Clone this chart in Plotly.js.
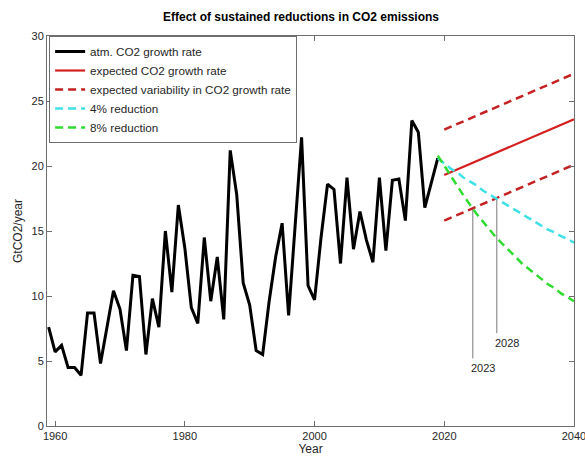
<!DOCTYPE html>
<html>
<head>
<meta charset="utf-8">
<script src="https://cdn.plot.ly/plotly-3.0.1.min.js"></script>
<style>
html, body { margin: 0; padding: 0; background: #fff; }
#chart { width: 585px; height: 457px; }
</style>
</head>
<body>
<div id="chart"></div>
<script>
// Observed atmospheric CO2 growth rate (GtCO2/year)
const obsYears = [];
for (let y = 1959; y <= 2019; y++) obsYears.push(y);
const obsGrowth = [7.6, 5.7, 6.2, 4.5, 4.5, 3.9, 8.7, 8.7, 4.8, 7.6,
  10.4, 9.0, 5.8, 11.6, 11.5, 5.5, 9.8, 7.6, 15.0, 10.3,
  17.0, 13.7, 9.1, 7.9, 14.5, 9.6, 13.0, 8.2, 21.2, 17.8,
  11.0, 9.3, 5.8, 5.5, 9.6, 13.0, 15.6, 8.5, 15.0, 22.2,
  10.8, 9.7, 14.5, 18.6, 18.2, 12.5, 19.1, 13.6, 16.5, 14.3,
  12.6, 19.1, 13.5, 18.9, 19.0, 15.8, 23.5, 22.6, 16.8, 18.7,
  20.6];

// Expected growth rate and variability band
const expYears = [2020, 2040];
const expGrowth = [19.3, 23.6];
const expUpper = [22.8, 27.1];
const expLower = [15.8, 20.1];

// Reduction scenarios
const scenYears = [];
for (let y = 2019; y <= 2040; y++) scenYears.push(y);
const red4 = [20.6, 20.2, 19.8, 19.5, 19.1, 18.8, 18.5, 18.1, 17.8, 17.5,
  17.2, 16.9, 16.6, 16.3, 16.0, 15.7, 15.4, 15.1, 14.9, 14.6, 14.4, 14.1];
const red8 = [20.8, 20.0, 19.2, 18.4, 17.7, 17.0, 16.3, 15.7, 15.1, 14.5,
  14.0, 13.5, 13.0, 12.5, 12.1, 11.7, 11.3, 10.9, 10.6, 10.2, 9.9, 9.6];

// Crossing markers (vertical guide lines and labels)
const markX = [2024.4, 2028.1];
const markTop = [16.75, 17.5];
const markBottom = [5.2, 7.15];
const markLabels = ['2023', '2028'];
const markLabelX = [2026.0, 2029.6];
const markLabelY = [4.45, 6.4];

const xTicks = [1960, 1980, 2000, 2020, 2040];
const yTicks = [0, 5, 10, 15, 20, 25, 30];

const FONT = 'Liberation Sans, Arial, sans-serif';
const DASH = '8px,5px';
const traces = [];

// guide lines (no legend)
for (let i = 0; i < markX.length; i++) {
  traces.push({
    x: [markX[i], markX[i]], y: [markTop[i], markBottom[i]],
    mode: 'lines', line: {color: '#7a7a7a', width: 1},
    showlegend: false, hoverinfo: 'skip'
  });
}

traces.push({x: obsYears, y: obsGrowth, mode: 'lines', name: 'atm. CO2 growth rate',
  line: {color: '#000000', width: 3}});
traces.push({x: expYears, y: expGrowth, mode: 'lines', name: 'expected CO2 growth rate',
  line: {color: '#d42020', width: 2.2}});
traces.push({x: expYears, y: expUpper, mode: 'lines', name: 'expected variability in CO2 growth rate',
  line: {color: '#c42222', width: 2.5, dash: DASH}});
traces.push({x: expYears, y: expLower, mode: 'lines', name: 'expected variability in CO2 growth rate',
  showlegend: false, line: {color: '#c42222', width: 2.5, dash: DASH}});
traces.push({x: scenYears, y: red4, mode: 'lines', name: '4% reduction',
  line: {color: '#3fe0e6', width: 2.5, dash: DASH}});
traces.push({x: scenYears, y: red8, mode: 'lines', name: '8% reduction',
  line: {color: '#2fdc2f', width: 2.5, dash: DASH}});

const annotations = markLabels.map((t, i) => ({
  x: markLabelX[i], y: markLabelY[i], xref: 'x', yref: 'y',
  text: t, showarrow: false, xanchor: 'center', yanchor: 'middle',
  font: {family: FONT, size: 11, color: '#262626'}
}));

const axisCommon = {
  showline: true, linecolor: '#6e6e6e', linewidth: 1, mirror: 'allticks',
  ticks: 'inside', ticklen: 5, tickcolor: '#6e6e6e', tickwidth: 1,
  showgrid: false, zeroline: false, tickmode: 'array',
  ticklabeloverflow: 'allow',
  tickfont: {family: FONT, size: 11, color: '#262626'}
};

const layout = {
  width: 585, height: 457,
  margin: {l: 47, r: 11, t: 36, b: 31, pad: 0},
  paper_bgcolor: '#ffffff', plot_bgcolor: '#ffffff',
  font: {family: FONT, size: 11, color: '#262626'},
  title: {text: 'Effect of sustained reductions in CO2 emissions',
    font: {family: FONT, size: 12, color: '#000', weight: 'bold'},
    x: 301 / 585, xref: 'container', xanchor: 'center',
    y: 1, yref: 'container', yanchor: 'top', pad: {t: 13}},
  xaxis: Object.assign({}, axisCommon, {
    range: [1958.75, 2040.001], tickvals: xTicks, ticktext: xTicks.map(String),
    title: {text: 'Year', standoff: 3, font: {family: FONT, size: 12, color: '#262626'}}
  }),
  yaxis: Object.assign({}, axisCommon, {
    range: [0, 30.001], tickvals: yTicks, ticktext: yTicks.map(String),
    title: {text: 'GtCO2/year', standoff: 6, font: {family: FONT, size: 12, color: '#262626'}}
  }),
  legend: {x: 0.004, y: 1, xanchor: 'left', yanchor: 'top',
    bgcolor: '#ffffff', bordercolor: '#6e6e6e', borderwidth: 1,
    font: {family: FONT, size: 11.7, color: '#262626'},
    tracegroupgap: 0, itemwidth: 30},
  annotations: annotations,
  showlegend: true
};

Plotly.newPlot('chart', traces, layout, {displayModeBar: false, staticPlot: true});
</script>
</body>
</html>
